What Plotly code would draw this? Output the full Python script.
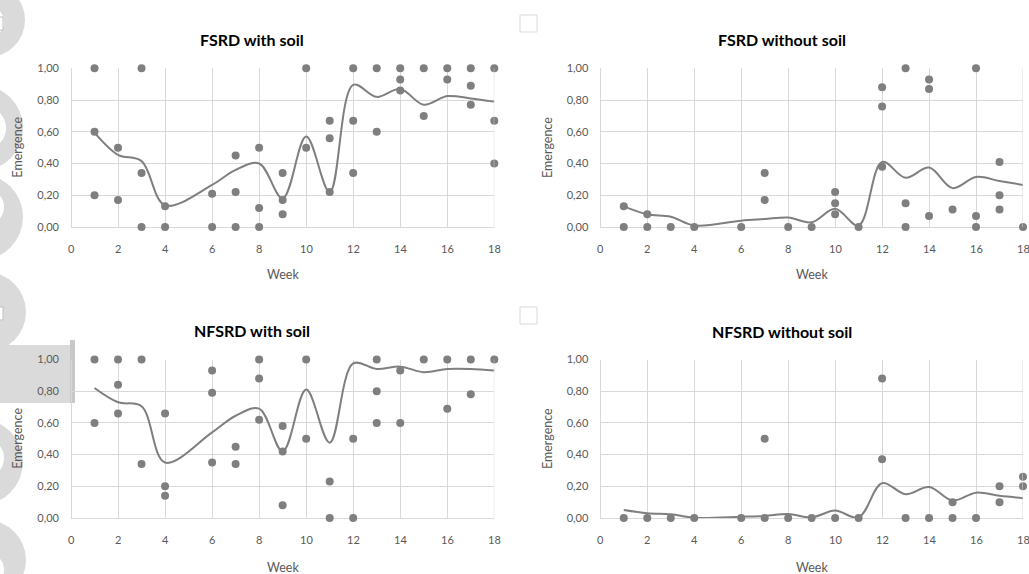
import plotly.graph_objects as go

W, H = 1029, 574

weeks = [1, 2, 3, 4, 6, 7, 8, 9, 10, 11, 12, 13, 14, 15, 16, 17, 18]
x_ticks = [0, 2, 4, 6, 8, 10, 12, 14, 16, 18]
y_ticks = [0, 0.2, 0.4, 0.6, 0.8, 1.0]

titles = ["FSRD with soil", "FSRD without soil", "NFSRD with soil", "NFSRD without soil"]
x_title = "Week"
y_title = "Emergence"

# observed points per week (same order as weeks)
fsrd_soil_pts = [[1.00, 0.60, 0.20], [0.50, 0.17], [1.00, 0.34, 0.00], [0.13, 0.00],
                 [0.21, 0.00], [0.45, 0.22, 0.00], [0.50, 0.12, 0.00], [0.34, 0.17, 0.08],
                 [1.00, 0.50], [0.67, 0.56, 0.22], [1.00, 0.67, 0.34], [1.00, 0.60],
                 [1.00, 0.93, 0.86], [1.00, 0.70], [1.00, 0.93], [1.00, 0.89, 0.77],
                 [1.00, 0.67, 0.40]]
fsrd_nosoil_pts = [[0.13, 0.00], [0.08, 0.00], [0.00], [0.00], [0.00], [0.34, 0.17],
                   [0.00], [0.00], [0.22, 0.15, 0.08], [0.00], [0.88, 0.76, 0.38],
                   [1.00, 0.15, 0.00], [0.93, 0.87, 0.07], [0.11], [1.00, 0.07, 0.00],
                   [0.41, 0.20, 0.11], [0.00]]
nfsrd_soil_pts = [[1.00, 0.60], [1.00, 0.84, 0.66], [1.00, 0.34], [0.66, 0.20, 0.14],
                  [0.93, 0.79, 0.35], [0.45, 0.34], [1.00, 0.88, 0.62], [0.58, 0.42, 0.08],
                  [1.00, 0.50], [0.23, 0.00], [0.50, 0.00], [1.00, 0.80, 0.60],
                  [0.93, 0.60], [1.00], [1.00, 0.69], [1.00, 0.78], [1.00]]
nfsrd_nosoil_pts = [[0.00], [0.00], [0.00], [0.00], [0.00], [0.50, 0.00], [0.00], [0.00],
                    [0.00], [0.00], [0.88, 0.37], [0.00], [0.00], [0.10, 0.00], [0.00],
                    [0.20, 0.10], [0.26, 0.20]]

# smoothed mean lines
fsrd_soil_mean = [0.595, 0.455, 0.415, 0.137, 0.265, 0.36, 0.40, 0.18, 0.57, 0.22,
                  0.895, 0.82, 0.87, 0.77, 0.825, 0.81, 0.79]
fsrd_nosoil_mean = [0.13, 0.08, 0.065, 0.01, 0.04, 0.05, 0.06, 0.03, 0.115, 0.01,
                    0.41, 0.31, 0.375, 0.245, 0.315, 0.29, 0.265]
nfsrd_soil_mean = [0.82, 0.73, 0.705, 0.35, 0.54, 0.645, 0.69, 0.42, 0.81, 0.475,
                   0.975, 0.94, 0.955, 0.92, 0.94, 0.94, 0.93]
nfsrd_nosoil_mean = [0.05, 0.03, 0.023, 0.002, 0.008, 0.013, 0.025, 0.004, 0.047, 0.004,
                     0.22, 0.15, 0.195, 0.11, 0.16, 0.14, 0.125]

points = [fsrd_soil_pts, fsrd_nosoil_pts, nfsrd_soil_pts, nfsrd_nosoil_pts]
means = [fsrd_soil_mean, fsrd_nosoil_mean, nfsrd_soil_mean, nfsrd_nosoil_mean]

# layout in pixels: (x_left, x_right, y_top, y_bottom) of each plot area
boxes = [(71, 494.3, 68.3, 227), (600.3, 1023.0, 68.3, 227),
         (71, 494.3, 359.5, 518), (600.3, 1023.0, 359.5, 518)]
title_pos = [(252, 40), (782, 40), (252, 330), (782, 331)]
week_y = [275, 275, 567, 567]

def px(x):
    return x / W

def py(y):
    return 1 - y / H

GRAY = "#7f7f7f"
GRID = "#d9d9d9"
TXT = "#595959"
FONT = "Lato, Carlito, Calibri, sans-serif"

fig = go.Figure()
annotations = []
shapes = []

for i in range(4):
    xs, ys = [], []
    for w, vals in zip(weeks, points[i]):
        for v in vals:
            xs.append(w)
            ys.append(v)
    ax = "" if i == 0 else str(i + 1)
    fig.add_trace(go.Scatter(x=weeks, y=means[i], mode="lines",
                             line=dict(color=GRAY, width=2, shape="spline", smoothing=1.0),
                             xaxis="x" + ax, yaxis="y" + ax, showlegend=False,
                             hoverinfo="skip"))
    fig.add_trace(go.Scatter(x=xs, y=ys, mode="markers",
                             marker=dict(color=GRAY, size=8, line=dict(width=0)),
                             xaxis="x" + ax, yaxis="y" + ax, showlegend=False,
                             cliponaxis=False, hoverinfo="skip"))
    xl, xr, yt, yb = boxes[i]
    fig.layout["xaxis" + ax] = dict(
        domain=[px(xl), px(xr)], range=[0, 18], tickvals=x_ticks, showticklabels=False,
        showgrid=True, gridcolor=GRID, gridwidth=1, zeroline=True, zerolinecolor=GRID,
        zerolinewidth=1, showline=False, ticks="", automargin=False,
        anchor="y" + ax, fixedrange=True)
    fig.layout["yaxis" + ax] = dict(
        domain=[py(yb), py(yt)], range=[0, 1], tickvals=y_ticks, tickformat=".2f",
        showgrid=True, gridcolor=GRID, gridwidth=1, zeroline=True, zerolinecolor=GRID,
        zerolinewidth=1, showline=False, ticks="", ticklabelstandoff=11, automargin=False,
        tickfont=dict(family=FONT, size=11, color=TXT), anchor="x" + ax, fixedrange=True)
    # x tick labels placed on the x axis scale
    for t in x_ticks:
        annotations.append(dict(text=str(t), x=t, xref="x" + ax, y=py(yb + 21),
                                yref="paper", showarrow=False, xanchor="center",
                                yanchor="middle",
                                font=dict(family=FONT, size=11, color=TXT)))
    # plot-area border at x = 18
    shapes.append(dict(type="line", xref="x" + ax, yref="y" + ax + " domain",
                       x0=18, x1=18, y0=0, y1=1, layer="above",
                       line=dict(color=GRID, width=1)))
    tx, ty = title_pos[i]
    annotations.append(dict(text="<b>" + titles[i] + "</b>", x=px(tx), y=py(ty),
                            xref="paper", yref="paper", showarrow=False,
                            xanchor="center", yanchor="middle",
                            font=dict(family=FONT, size=16, color="#000000")))
    annotations.append(dict(text=x_title, x=px((xl + xr) / 2), y=py(week_y[i]),
                            xref="paper", yref="paper", showarrow=False,
                            xanchor="center", yanchor="middle",
                            font=dict(family=FONT, size=12.5, color=TXT)))
    annotations.append(dict(text=y_title, x=px(xl - 53), y=py((yt + yb) / 2),
                            xref="paper", yref="paper", showarrow=False, textangle=-90,
                            xanchor="center", yanchor="middle",
                            font=dict(family=FONT, size=12.5, color=TXT)))

# background decorations (watermark fragments & small squares)
WM = "#dadada"

def circ(cx, cy, r, color):
    return dict(type="circle", xref="paper", yref="paper", layer="below",
                x0=px(cx - r), x1=px(cx + r), y0=py(cy + r), y1=py(cy - r),
                fillcolor=color, line=dict(width=0))

def rect(x0, y0, x1, y1, fill=None, line=None):
    return dict(type="rect", xref="paper", yref="paper", layer="below",
                x0=px(x0), x1=px(x1), y0=py(y1), y1=py(y0),
                fillcolor=fill if fill else "rgba(0,0,0,0)",
                line=line if line else dict(width=0))

shapes += [
    circ(-12, 20, 37, WM), circ(-12, 22, 16, "white"),
    circ(-20, 128, 43, WM), circ(-16, 128, 22, "white"),
    circ(-20, 217, 43, WM), circ(-14, 207, 18, "white"),
    circ(-14, 312, 40, WM), circ(-14, 314, 16, "white"),
    rect(0, 345, 72, 403, fill=WM), rect(70, 340, 75, 403, fill="#c8c8c8"),
    circ(-20, 462, 43, WM), circ(-16, 458, 20, "white"),
    circ(-14, 560, 40, WM), circ(-14, 570, 18, "white"),
    rect(-14, 17, 3, 30, fill="white", line=dict(color="#bfbfbf", width=1)),
    rect(-14, 307, 3, 320, fill="white", line=dict(color="#bfbfbf", width=1)),
    rect(520, 15, 537, 32, line=dict(color=GRID, width=1)),
    rect(520, 307, 537, 324, line=dict(color=GRID, width=1)),
]

fig.update_layout(
    width=W, height=H, margin=dict(l=0, r=0, t=0, b=0),
    paper_bgcolor="white", plot_bgcolor="rgba(0,0,0,0)",
    separators=",.", annotations=annotations, shapes=shapes,
    font=dict(family=FONT), template="none", hovermode=False,
)

fig.write_html("out.html", config={"displayModeBar": False, "staticPlot": True},
               post_script="document.body.style.margin='0';document.body.style.overflow='hidden';")
